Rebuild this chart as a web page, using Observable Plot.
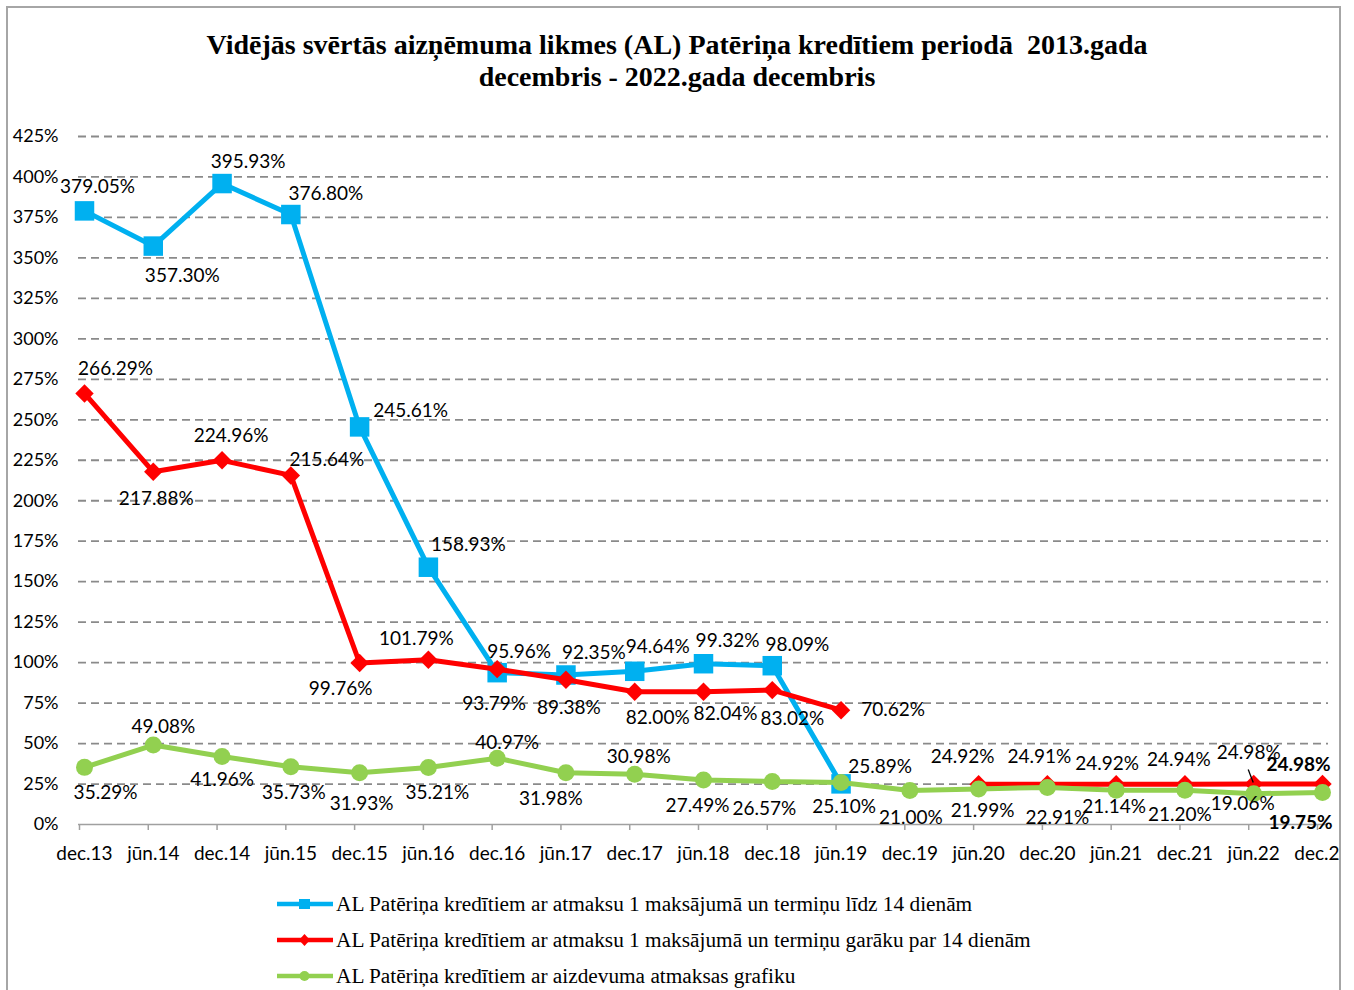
<!DOCTYPE html>
<html><head><meta charset="utf-8">
<script src="https://cdn.jsdelivr.net/npm/d3@7"></script>
<script src="https://cdn.jsdelivr.net/npm/@observablehq/plot@0.6"></script>
<style>
body{margin:0;background:#fff;}
#frame{position:absolute;left:6px;top:6px;width:1335px;height:1000px;border:2px solid #a6a6a6;overflow:hidden;box-sizing:border-box;background:#fff;}
#title{position:absolute;left:-8px;top:21px;width:1354px;text-align:center;font:bold 28px "Liberation Serif","Times New Roman",serif;line-height:32px;color:#000;}
#chart{position:absolute;left:-8px;top:92px;width:1354px;height:780px;}
#chart svg{max-width:none !important;}
.leg{position:absolute;left:269px;height:24px;display:flex;align-items:center;font:21.3px "Liberation Serif","Times New Roman",serif;color:#000;white-space:nowrap;}
.leg svg{margin-right:3px;}
</style></head>
<body>
<div id="frame">
  <div id="title">Vidējās svērtās aizņēmuma likmes (AL) Patēriņa kredītiem periodā&nbsp; 2013.gada<br>decembris - 2022.gada decembris</div>
  <div id="chart"></div>
  <div id="legend"></div>
</div>
<script>
const categories = ["dec.13","jūn.14","dec.14","jūn.15","dec.15","jūn.16","dec.16","jūn.17","dec.17","jūn.18","dec.18","jūn.19","dec.19","jūn.20","dec.20","jūn.21","dec.21","jūn.22","dec.22"];
const blueValues = [379.05,357.30,395.93,376.80,245.61,158.93,93.79,92.35,94.64,99.32,98.09,25.10,null,null,null,null,null,null,null];
const redValues = [266.29,217.88,224.96,215.64,99.76,101.79,95.96,89.38,82.00,82.04,83.02,70.62,null,24.92,24.91,24.92,24.94,24.98,24.98];
const greenValues = [35.29,49.08,41.96,35.73,31.93,35.21,40.97,31.98,30.98,27.49,26.57,25.89,21.00,21.99,22.91,21.14,21.20,19.06,19.75];
const seriesNames = [
  "AL Patēriņa kredītiem ar atmaksu 1 maksājumā un termiņu līdz 14 dienām",
  "AL Patēriņa kredītiem ar atmaksu 1 maksājumā un termiņu garāku par 14 dienām",
  "AL Patēriņa kredītiem ar aizdevuma atmaksas grafiku"
];
const yTicks = d3.range(0, 426, 25);

// label placement (pixel offsets from the point), presentation only
const blueLabelOffsets = [[13,-24],[29,30],[26,-22],[35,-21],[51,-16],[40,-22],[-3,31],[28,-22],[23,-24],[24,-23],[25,-21],[3,23]];
const redLabelOffsets = [[31,-25],[3,27],[9,-24],[36,-16],[-19,26],[-12,-21],[22,-17],[3,28],[23,26],[22,22],[20,29],[52,0],null,[-16,-27],[-8,-27],[-9,-20],[-6,-24],[-5,-31],[-24,-19]];
const greenLabelOffsets = [[21,26],[10,-18],[0,23],[3,26],[2,31],[9,25],[10,-15],[-15,26],[4,-17],[-6,26],[-8,27],[39,-16],[1,27],[4,22],[10,30],[-2,17],[-5,25],[-11,10],[-22,30]];

const series = [
  {name: seriesNames[0], values: blueValues, color: "#00B0F0", symbol: "square", r: 11, offsets: blueLabelOffsets},
  {name: seriesNames[1], values: redValues, color: "#FF0000", symbol: "diamond2", r: 8.3, offsets: redLabelOffsets},
  {name: seriesNames[2], values: greenValues, color: "#92D050", symbol: "circle", r: 8.5, offsets: greenLabelOffsets}
];

const fmt = v => v.toFixed(2) + "%";
const marks = [
  Plot.ruleY(yTicks.filter(d => d > 0), {stroke: "#8a8a8a", strokeWidth: 1.8, strokeDasharray: "8,5"}),
  Plot.ruleY([0], {stroke: "#a0a0a0", strokeWidth: 1.5}),
  Plot.ruleX(categories, {x: d => d, y1: 0, y2: 0, insetBottom: -6, dx: -5, stroke: "#a0a0a0", strokeWidth: 1.5}),
  Plot.axisY({ticks: yTicks, tickFormat: d => d + "%", tickSize: 0, tickPadding: 20, label: null, fontSize: 18}),
  Plot.axisX({tickSize: 0, tickPadding: 22, label: null})
];

for (const s of series) {
  const data = categories.map((c, i) => ({c, v: s.values[i], i}));
  const valid = data.filter(d => d.v != null);
  marks.push(Plot.line(data, {x: "c", y: "v", stroke: s.color, strokeWidth: 5, strokeLinejoin: "miter", strokeLinecap: "butt"}));
  marks.push(Plot.dot(valid, {x: "c", y: "v", fill: s.color, stroke: "none", symbol: s.symbol, r: s.r}));
}
for (const s of series) {
  const data = categories.map((c, i) => ({c, v: s.values[i], i}));
  for (const d of data) {
    if (d.v == null || !s.offsets[d.i]) continue;
    const [dx, dy] = s.offsets[d.i];
    marks.push(Plot.text([d], {x: "c", y: "v", text: e => fmt(e.v), dx, dy, fill: "#000",
      fontWeight: d.i === categories.length - 1 && s !== series[0] ? "bold" : "normal"}));
  }
}
// leader line for the jūn.22 label of the red series
marks.push((index, scales) => {
  const x = scales.x("jūn.22"), y = scales.y(redValues[17]);
  const l = document.createElementNS("http://www.w3.org/2000/svg", "line");
  l.setAttribute("x1", x - 5); l.setAttribute("y1", y - 14);
  l.setAttribute("x2", x); l.setAttribute("y2", y - 1);
  l.setAttribute("stroke", "#000"); l.setAttribute("stroke-width", "1.3");
  return l;
});

const chart = Plot.plot({
  width: 1354,
  height: 780,
  marginTop: 36,
  marginBottom: 56,
  marginLeft: 78,
  marginRight: 26,
  style: {fontFamily: "Lato, 'Noto Sans', sans-serif", fontSize: "19px", color: "#000", background: "transparent", overflow: "visible", maxWidth: "none"},
  x: {type: "point", domain: categories, range: [84, 1322], padding: 0, round: false},
  y: {domain: [0, 425]},
  marks
});
document.getElementById("chart").appendChild(chart);

// legend
const legend = document.getElementById("legend");
const legTops = [884, 920, 956];
series.forEach((s, k) => {
  const row = document.createElement("div");
  row.className = "leg";
  row.style.top = legTops[k] + "px";
  let marker;
  if (s.symbol === "square") marker = `<rect x="22" y="7" width="11" height="10" fill="${s.color}"/>`;
  else if (s.symbol === "diamond2") marker = `<path d="M27.5 6 L33 12 L27.5 18 L22 12 Z" fill="${s.color}"/>`;
  else marker = `<circle cx="27.5" cy="12" r="5" fill="${s.color}"/>`;
  row.innerHTML = `<svg width="56" height="24"><line x1="0" y1="12" x2="56" y2="12" stroke="${s.color}" stroke-width="4.5"/>${marker}</svg><span>${s.name}</span>`;
  legend.appendChild(row);
});
</script>
</body></html>
